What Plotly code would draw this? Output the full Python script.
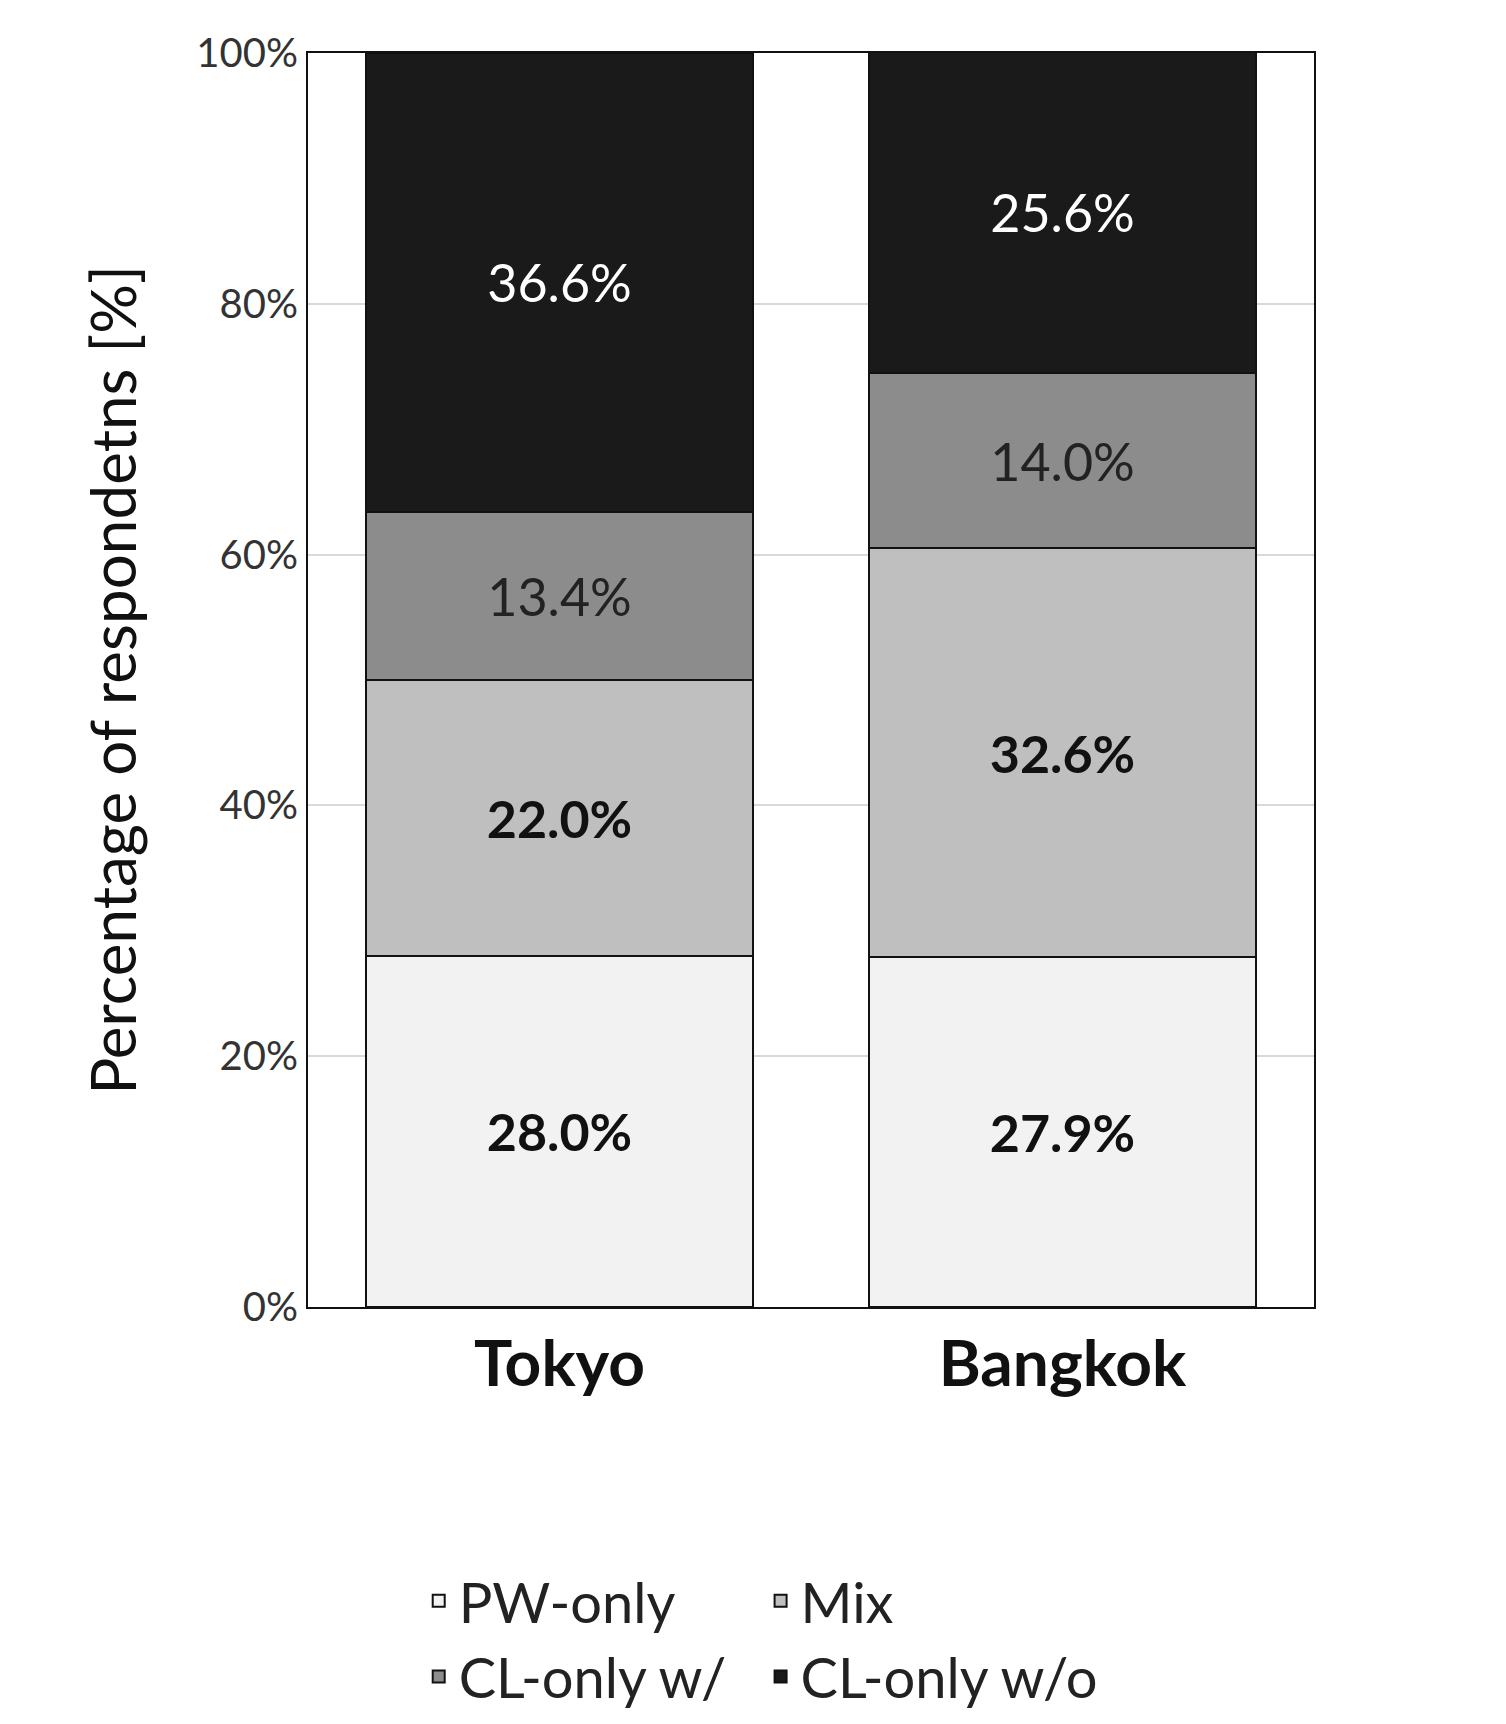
import plotly.graph_objects as go

CITIES = ["Tokyo", "Bangkok"]
SERIES = ["PW-only", "Mix", "CL-only w/", "CL-only w/o"]
VALUES = {
    "PW-only": [28.0, 27.9],
    "Mix": [22.0, 32.6],
    "CL-only w/": [13.4, 14.0],
    "CL-only w/o": [36.6, 25.6],
}
FILLS = ["#f2f2f2", "#bfbfbf", "#8c8c8c", "#1a1a1a"]
TEXT_STYLE = [("#111111", True), ("#111111", True), ("#222222", False), ("#ffffff", False)]

fig = go.Figure()
for name, fill, (tcol, bold) in zip(SERIES, FILLS, TEXT_STYLE):
    vals = VALUES[name]
    labels = [f"<b>{v:.1f}%</b>" if bold else f"{v:.1f}%" for v in vals]
    fig.add_trace(go.Bar(
        x=CITIES, y=vals, name=name, width=0.77,
        marker={"color": fill, "line": {"color": "#111111", "width": 2}},
        text=labels, textposition="inside", insidetextanchor="middle",
        textfont={"size": 52, "color": tcol, "family": "Lato"},
        textangle=0,
    ))

fig.update_layout(
    barmode="stack",
    width=1506, height=1724,
    paper_bgcolor="white", plot_bgcolor="white",
    font={"family": "Lato", "color": "#222222"},
    margin={"l": 300, "r": 200, "t": 45, "b": 390},
    uniformtext={"mode": "show", "minsize": 10},
    legend={
        "orientation": "h", "x": 0.45, "xanchor": "center",
        "y": -0.2, "yanchor": "top",
        "font": {"size": 56, "color": "#222222"},
        "itemwidth": 30, "traceorder": "normal",
    },
    showlegend=True,
)
fig.update_xaxes(
    range=[-0.5, 1.5], showline=True, linecolor="#111111", linewidth=2,
    mirror=True, ticks="", tickfont={"size": 64, "color": "#111111", "family": "Lato"},
    tickprefix="<b>", ticksuffix="</b>",
)
fig.update_yaxes(
    range=[0, 100], dtick=20, ticksuffix="%", showline=True, linecolor="#111111",
    linewidth=2, mirror=True, showgrid=True, gridcolor="#d9d9d9", gridwidth=1.5,
    tickfont={"size": 40, "color": "#333333"},
    title={"text": "Percentage of respondetns [%]", "font": {"size": 62, "color": "#111111"},
           "standoff": 40},
)

fig.write_html("out.html")
